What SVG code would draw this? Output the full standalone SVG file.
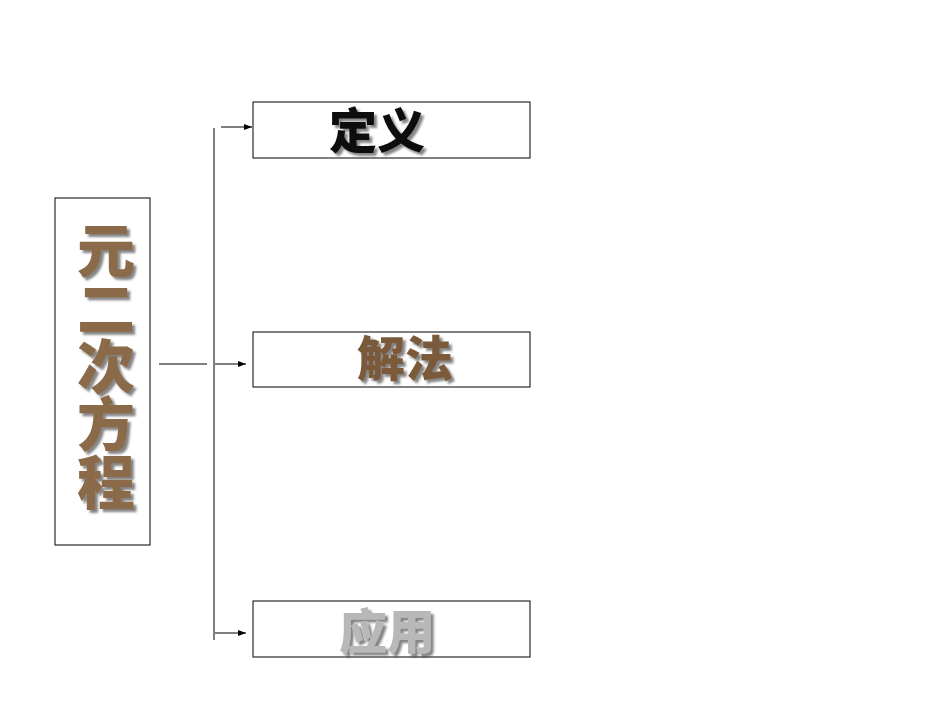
<svg xmlns="http://www.w3.org/2000/svg" width="950" height="713" viewBox="0 0 950 713">
<style>
.box{fill:#fff;stroke:#000;stroke-width:1}
.ln{stroke:#000;stroke-width:1;fill:none}
.t{font-family:"Noto Sans CJK SC",sans-serif;font-weight:900;font-size:48px;text-anchor:middle;filter:url(#sh)}
.v{font-size:58px;fill:#8a6a4a;writing-mode:vertical-rl;text-anchor:start;letter-spacing:0px}
</style>
<defs>
<filter id="sh" x="-20%" y="-20%" width="150%" height="150%"><feDropShadow dx="3" dy="3" stdDeviation="0.8" flood-color="#333" flood-opacity="0.6"/></filter>
<marker id="ar" markerWidth="8" markerHeight="8" refX="8" refY="4" orient="auto" markerUnits="userSpaceOnUse"><path d="M0,1 L8,4 L0,7 Z" fill="#000"/></marker>
</defs>
<rect width="950" height="713" fill="#fff"/>
<g id="connectors">
<line class="ln" x1="159" y1="364" x2="207" y2="364"/>
<line class="ln" x1="214" y1="128" x2="214" y2="640"/>
<line class="ln" x1="221" y1="127" x2="252" y2="127" marker-end="url(#ar)"/>
<line class="ln" x1="215" y1="364" x2="246" y2="364" marker-end="url(#ar)"/>
<line class="ln" x1="215" y1="633" x2="246" y2="633" marker-end="url(#ar)"/>
</g>
<g id="main">
<rect class="box" x="55" y="198" width="95" height="347"/>
<text class="t v" x="106" y="221">元二次方程</text>
</g>
<g id="n1">
<rect class="box" x="253" y="102" width="277" height="56"/>
<text class="t" x="377" y="148" fill="#111">定义</text>
</g>
<g id="n2">
<rect class="box" x="253" y="332" width="277" height="55"/>
<text class="t" x="405" y="376" fill="#7a5a3a">解法</text>
</g>
<g id="n3">
<rect class="box" x="253" y="601" width="277" height="56"/>
<text class="t" x="387" y="649" fill="#b8b8b8">应用</text>
</g>
</svg>
